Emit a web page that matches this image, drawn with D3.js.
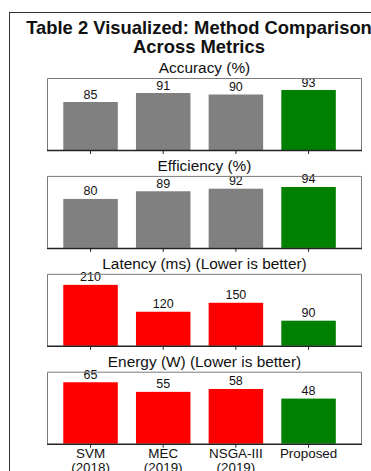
<!DOCTYPE html>
<html>
<head>
<meta charset="utf-8">
<script src="https://cdn.jsdelivr.net/npm/d3@7"></script>
<style>
  html, body { margin: 0; padding: 0; background: #fff; overflow: hidden; }
  svg { display: block; font-family: "Liberation Sans", Arial, sans-serif; }
</style>
</head>
<body>
<div id="chart"></div>
<script>
// Methods compared, with publication year
const methods = ["SVM", "MEC", "NSGA-III", "Proposed"];
const methodYears = ["(2018)", "(2019)", "(2019)", ""];

// Metric titles
const metricTitles = [
  "Accuracy (%)",
  "Efficiency (%)",
  "Latency (ms) (Lower is better)",
  "Energy (W) (Lower is better)"
];

// Values per metric, in method order
const accuracy = [85, 91, 90, 93];
const efficiency = [80, 89, 92, 94];
const latency = [210, 120, 150, 90];
const energy = [65, 55, 58, 48];

const metricValues = [accuracy, efficiency, latency, energy];
// Higher-is-better metrics use gray for baselines; lower-is-better use red
const lowerIsBetter = [false, false, true, true];

// Value range shown on each panel's vertical axis
const yDomains = [[53, 101], [22.6, 107], [6, 247], [1, 76]];

const W = 371, H = 471;
const svg = d3.select("#chart").append("svg")
  .attr("width", W).attr("height", H);

// Outer frame
svg.append("rect")
  .attr("x", 9.5).attr("y", 12.5)
  .attr("width", 420).attr("height", 520)
  .attr("fill", "none").attr("stroke", "#333").attr("stroke-width", 1);

// Title
const title = svg.append("text")
  .attr("text-anchor", "middle")
  .attr("font-weight", "bold")
  .attr("font-size", 18.4)
  .attr("fill", "#111");
title.append("tspan").attr("x", 199).attr("y", 34).text("Table 2 Visualized: Method Comparison");
title.append("tspan").attr("x", 199).attr("y", 53).text("Across Metrics");

const panelLeft = 47, panelRight = 362;
const panelHeight = 72;
const panelTop0 = 78, panelGap = 97.9;

const x = d3.scaleBand()
  .domain(methods)
  .range([54.2, 344.9])
  .paddingInner(0.25)
  .paddingOuter(0.125);

const colorFor = (m, i) => {
  if (methods[i] === "Proposed") return "#008000";
  return lowerIsBetter[m] ? "#ff0000" : "#808080";
};

metricValues.forEach((vals, m) => {
  const top = panelTop0 + m * panelGap;
  const bottom = top + panelHeight;
  const y = d3.scaleLinear().domain(yDomains[m]).range([bottom, top]);

  const g = svg.append("g");

  // Panel subtitle
  g.append("text")
    .attr("x", (panelLeft + panelRight) / 2)
    .attr("y", top - 5)
    .attr("text-anchor", "middle")
    .attr("font-size", 15.4)
    .attr("fill", "#111")
    .text(metricTitles[m]);

  // Bars
  g.selectAll("rect.bar")
    .data(vals)
    .join("rect")
    .attr("class", "bar")
    .attr("x", (d, i) => x(methods[i]))
    .attr("width", x.bandwidth())
    .attr("y", d => y(d))
    .attr("height", d => bottom - y(d))
    .attr("fill", (d, i) => colorFor(m, i));

  // Value labels
  g.selectAll("text.val")
    .data(vals)
    .join("text")
    .attr("class", "val")
    .attr("x", (d, i) => x(methods[i]) + x.bandwidth() / 2)
    .attr("y", d => y(d) - 3.5)
    .attr("text-anchor", "middle")
    .attr("font-size", 12.5)
    .attr("fill", "#111")
    .text(d => d);

  // Panel box: gray sides/top, dark bottom spine
  g.append("path")
    .attr("d", `M${panelLeft + 0.5},${bottom}V${top + 0.5}H${panelRight - 0.5}V${bottom}`)
    .attr("fill", "none")
    .attr("stroke", "#7a7a7a")
    .attr("stroke-width", 1);

  // Bottom axis with tick marks at each method
  const axis = d3.axisBottom(x).tickSize(4).tickSizeOuter(0).tickPadding(3);
  const ag = g.append("g")
    .attr("transform", `translate(0,${bottom})`)
    .call(axis);
  ag.select(".domain")
    .attr("d", `M${panelLeft},0.5H${panelRight}`)
    .attr("stroke", "#222")
    .attr("stroke-width", 1.5);
  ag.selectAll(".tick line").attr("stroke", "#222");

  if (m === metricValues.length - 1) {
    ag.selectAll(".tick text")
      .attr("font-size", 13.4)
      .attr("font-family", "Liberation Sans, Arial, sans-serif")
      .attr("fill", "#111")
      .each(function(d, i) {
        const t = d3.select(this);
        t.text(null);
        t.append("tspan").attr("x", 0).attr("dy", "0.55em").text(methods[i]);
        if (methodYears[i]) {
          t.append("tspan").attr("x", 0).attr("dy", "1.06em").text(methodYears[i]);
        }
      });
  } else {
    ag.selectAll(".tick text").remove();
  }
});
</script>
</body>
</html>
